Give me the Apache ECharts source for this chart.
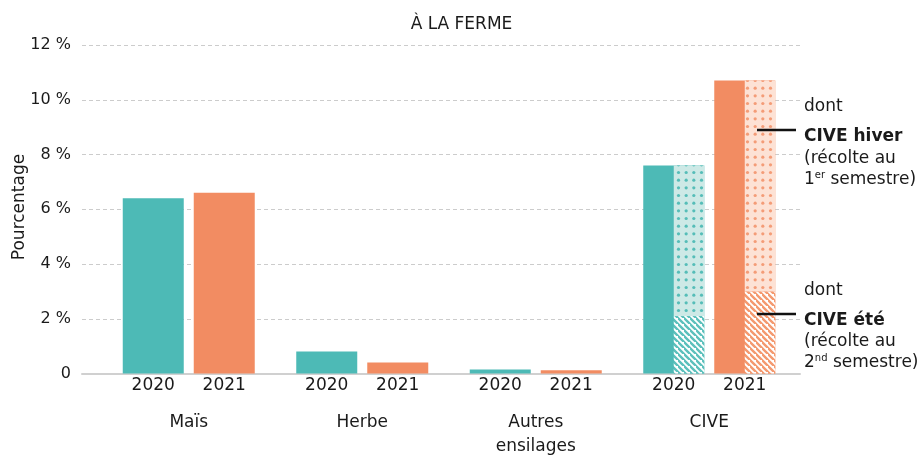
<!DOCTYPE html>
<html>
<head>
<meta charset="utf-8">
<script src="https://cdn.jsdelivr.net/npm/echarts@6/dist/echarts.min.js"></script>
<style>
  html, body { margin: 0; padding: 0; background: #ffffff; }
  #chart { width: 923px; height: 459px; }
</style>
</head>
<body>
<div id="chart"></div>
<script>
// Part des cultures dans la ration (à la ferme), 2020 et 2021
const categories = ['Maïs', 'Herbe', 'Autres\nensilages', 'CIVE'];
const years = ['2020', '2021'];
const total2020 = [6.4, 0.8, 0.15, 7.6];
const total2021 = [6.6, 0.4, 0.12, 10.7];
// Détail des CIVE : été (récolte au 2nd semestre) et hiver (récolte au 1er semestre)
const civeEte = [2.1, 3.0];
const civeHiver = [5.5, 7.7];
const yTicks = [0, 2, 4, 6, 8, 10, 12];

const FONT = 'DejaVu Sans';
const INK = '#1a1a1a';
const TEAL = '#4dbab6';
const ORANGE = '#f28c62';

// Fond pointillé (CIVE hiver)
function dotPattern(bg, dot) {
  const c = document.createElement('canvas');
  c.width = 23; c.height = 23;
  const g = c.getContext('2d');
  g.fillStyle = bg; g.fillRect(0, 0, 23, 23);
  g.fillStyle = dot;
  const step = 23 / 3;
  for (let i = 0; i < 3; i++) {
    for (let j = 0; j < 3; j++) {
      g.beginPath();
      g.arc(step / 2 + i * step, step / 2 + j * step, 1.6, 0, Math.PI * 2);
      g.fill();
    }
  }
  return { image: c, repeat: 'repeat' };
}

// Hachures diagonales (CIVE été)
function hatchPattern(stroke) {
  const s = 6;
  const c = document.createElement('canvas');
  c.width = s; c.height = s;
  const g = c.getContext('2d');
  g.fillStyle = '#ffffff'; g.fillRect(0, 0, s, s);
  g.strokeStyle = stroke; g.lineWidth = 2.4;
  g.beginPath();
  g.moveTo(-1, -1); g.lineTo(s + 1, s + 1);
  g.moveTo(-s - 1, -1); g.lineTo(1, s + 1);
  g.moveTo(s - 1, -s - 1); g.lineTo(2 * s + 1, s + 1);
  g.stroke();
  return { image: c, repeat: 'repeat' };
}

// Valeurs CIVE seules (dernière catégorie), vides ailleurs
function civeOnly(v) {
  return categories.map((c, i) => (i === categories.length - 1 ? v : '-'));
}

const chart = echarts.init(document.getElementById('chart'), null, { renderer: 'canvas' });

const yearLabel = (txt) => ({
  show: true, position: 'bottom', distance: 4,
  formatter: txt, fontFamily: FONT, fontSize: 17, color: INK
});

const spacer = (xi, w) => ({
  type: 'bar', xAxisIndex: xi, yAxisIndex: 1, barWidth: w, barGap: 0,
  silent: true, data: [], itemStyle: { color: 'transparent' }
});

const annotationText = (y, text, bold) => ({
  type: 'text', x: 804, y: y, z: 100,
  style: {
    text: text, font: (bold ? 'bold ' : '') + '17px "DejaVu Sans"', fill: INK,
    align: 'left', verticalAlign: 'middle', lineHeight: 20,
    rich: { sup: { fontSize: 10, fontFamily: FONT, fill: INK, verticalAlign: 'top', lineHeight: 12 } }
  }
});

const pointer = (y) => ({
  type: 'line', z: 100,
  shape: { x1: 757, y1: y, x2: 796, y2: y },
  style: { stroke: '#111111', lineWidth: 2.5 }
});

const option = {
  animation: false,
  backgroundColor: '#ffffff',
  title: {
    text: 'À LA FERME', left: 'center', top: 11,
    textStyle: { fontFamily: FONT, fontSize: 17, fontWeight: 'normal', color: INK }
  },
  grid: [
    { left: 82, right: 123, top: 45, bottom: 85.5, outerBoundsMode: 'none', containLabel: false },
    { left: 102, right: 127, top: 45, bottom: 85.5, outerBoundsMode: 'none', containLabel: false }
  ],
  xAxis: [
    {
      gridIndex: 0, type: 'category', data: categories,
      axisLine: { show: true, lineStyle: { color: '#d0d0d0', width: 2 } },
      axisTick: { show: false }, axisLabel: { show: false }, splitLine: { show: false }
    },
    {
      gridIndex: 1, type: 'category', data: categories, position: 'bottom',
      axisLine: { show: false }, axisTick: { show: false },
      axisLabel: { margin: 37, fontFamily: FONT, fontSize: 17, lineHeight: 24, color: INK }
    },
    {
      gridIndex: 1, type: 'category', data: categories, position: 'top', show: false
    }
  ],
  yAxis: [
    {
      gridIndex: 0, type: 'value',
      min: yTicks[0], max: yTicks[yTicks.length - 1], interval: yTicks[1] - yTicks[0],
      axisLine: { show: false }, axisTick: { show: false },
      axisLabel: {
        margin: 11, fontFamily: FONT, fontSize: 16, color: INK,
        formatter: (v) => (v === 0 ? '0' : v + ' %')
      },
      splitLine: { show: true, lineStyle: { color: '#cccccc', width: 1, type: [4, 3] } }
    },
    {
      gridIndex: 1, type: 'value',
      min: yTicks[0], max: yTicks[yTicks.length - 1], interval: yTicks[1] - yTicks[0],
      show: false, splitLine: { show: false }
    }
  ],
  series: [
    {
      name: years[0], type: 'bar', xAxisIndex: 1, yAxisIndex: 1,
      barWidth: 61, barGap: 0, data: total2020,
      itemStyle: { color: TEAL }, label: yearLabel(years[0])
    },
    spacer(1, 10),
    {
      name: years[1], type: 'bar', xAxisIndex: 1, yAxisIndex: 1,
      barWidth: 61, barGap: 0, data: total2021,
      itemStyle: { color: ORANGE }, label: yearLabel(years[1])
    },
    // Détail CIVE en surimpression sur la moitié droite des barres
    spacer(2, 30.5),
    {
      name: 'CIVE été ' + years[0], type: 'bar', xAxisIndex: 2, yAxisIndex: 1,
      stack: 'd2020', barWidth: 30.5, barGap: 0, data: civeOnly(civeEte[0]),
      itemStyle: { color: hatchPattern('#5cc0bc') }
    },
    {
      name: 'CIVE hiver ' + years[0], type: 'bar', xAxisIndex: 2, yAxisIndex: 1,
      stack: 'd2020', barWidth: 30.5, barGap: 0, data: civeOnly(civeHiver[0]),
      itemStyle: { color: dotPattern('#cde9e6', '#55bdb8') }
    },
    spacer(2, 40.5),
    {
      name: 'CIVE été ' + years[1], type: 'bar', xAxisIndex: 2, yAxisIndex: 1,
      stack: 'd2021', barWidth: 30.5, barGap: 0, data: civeOnly(civeEte[1]),
      itemStyle: { color: hatchPattern('#f4996f') }
    },
    {
      name: 'CIVE hiver ' + years[1], type: 'bar', xAxisIndex: 2, yAxisIndex: 1,
      stack: 'd2021', barWidth: 30.5, barGap: 0, data: civeOnly(civeHiver[1]),
      itemStyle: { color: dotPattern('#fde2d5', '#f49c77') }
    }
  ],
  graphic: [
    {
      type: 'text', x: 20, y: 207, rotation: Math.PI / 2,
      style: { text: 'Pourcentage', font: '17px "DejaVu Sans"', fill: INK, align: 'center', verticalAlign: 'middle' }
    },
    pointer(130),
    pointer(314),
    annotationText(107, 'dont', false),
    annotationText(137, 'CIVE hiver', true),
    annotationText(159, '(récolte au', false),
    annotationText(180, '1{sup|er} semestre)', false),
    annotationText(291, 'dont', false),
    annotationText(321, 'CIVE été', true),
    annotationText(342, '(récolte au', false),
    annotationText(363, '2{sup|nd} semestre)', false)
  ]
};

chart.setOption(option);
</script>
</body>
</html>
